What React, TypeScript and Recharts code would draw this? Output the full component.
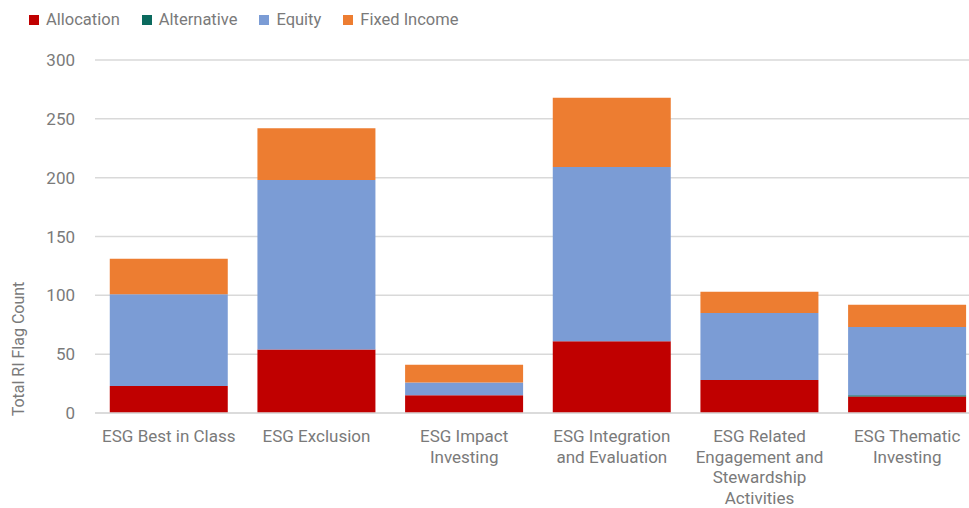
import React from "react";
import { Bar, BarChart, CartesianGrid, Legend, XAxis, YAxis } from "recharts";

const categories = [
  "ESG Best in Class",
  "ESG Exclusion",
  "ESG Impact\nInvesting",
  "ESG Integration\nand Evaluation",
  "ESG Related\nEngagement and\nStewardship\nActivities",
  "ESG Thematic\nInvesting",
];

const allocation = [23, 54, 15, 61, 28, 14];
const alternative = [0, 0, 0, 0, 0, 1];
const equity = [78, 144, 11, 148, 57, 58];
const fixedIncome = [30, 44, 15, 59, 18, 19];

const yTicks = [0, 50, 100, 150, 200, 250, 300];

const series = [
  { key: "allocation", name: "Allocation", color: "#C00000" },
  { key: "alternative", name: "Alternative", color: "#0B6A5E" },
  { key: "equity", name: "Equity", color: "#7B9CD5" },
  { key: "fixedIncome", name: "Fixed Income", color: "#ED7D31" },
];

const data = categories.map((category, i) => ({
  category,
  allocation: allocation[i],
  alternative: alternative[i],
  equity: equity[i],
  fixedIncome: fixedIncome[i],
}));

const FONT = "Roboto, sans-serif";
const TEXT = "#7a7a7a";

function CategoryTick(props: any) {
  const { x, y, payload } = props;
  const lines = String(payload.value).split("\n");
  return (
    <text x={x} y={y} textAnchor="middle" fill={TEXT} fontFamily={FONT} fontSize={17}>
      {lines.map((line, i) => (
        <tspan key={i} x={x} dy={i === 0 ? "0.71em" : 20.6}>
          {line}
        </tspan>
      ))}
    </text>
  );
}

function AxisTitle(props: any) {
  const { viewBox } = props;
  const cx = viewBox.x + 18;
  const cy = viewBox.y + viewBox.height - 64;
  return (
    <text
      x={cx}
      y={cy}
      transform={`rotate(-90, ${cx}, ${cy})`}
      textAnchor="middle"
      dominantBaseline="central"
      fill={TEXT}
      fontFamily={FONT}
      fontSize={16}
    >
      Total RI Flag Count
    </text>
  );
}

function LegendContent() {
  return (
    <div style={{ display: "flex", alignItems: "center", fontFamily: FONT, fontSize: 16.5, color: TEXT }}>
      {series.map((s) => (
        <div key={s.key} style={{ display: "flex", alignItems: "center", marginRight: 22 }}>
          <span style={{ width: 10, height: 10, background: s.color, marginRight: 7, display: "inline-block" }} />
          <span>{s.name}</span>
        </div>
      ))}
    </div>
  );
}

export default function App() {
  return (
    <div
      style={{
        position: "absolute",
        left: 0,
        top: 0,
        width: 969,
        height: 508,
        overflow: "hidden",
        background: "#fff",
      }}
    >
      <BarChart
        width={990}
        height={508}
        data={data}
        margin={{ top: 60, right: 9, left: 0, bottom: 0 }}
        barCategoryGap="10%"
      >
        <CartesianGrid vertical={false} stroke="#D9D9D9" strokeWidth={1.5} />
        <XAxis
          dataKey="category"
          interval={0}
          height={95}
          axisLine={{ stroke: "#D9D9D9", strokeWidth: 1.5 }}
          tickLine={false}
          tickMargin={11}
          tick={<CategoryTick />}
        />
        <YAxis
          width={95}
          domain={[0, 300]}
          ticks={yTicks}
          axisLine={false}
          tickLine={false}
          tickMargin={14}
          tick={{ fill: TEXT, fontFamily: FONT, fontSize: 17 }}
          label={<AxisTitle />}
        />
        <Legend
          verticalAlign="middle"
          align="center"
          layout="horizontal"
          wrapperStyle={{ top: 10, left: 29 }}
          content={<LegendContent />}
        />
        {series.map((s) => (
          <Bar key={s.key} dataKey={s.key} name={s.name} stackId="a" fill={s.color} isAnimationActive={false} />
        ))}
      </BarChart>
    </div>
  );
}
